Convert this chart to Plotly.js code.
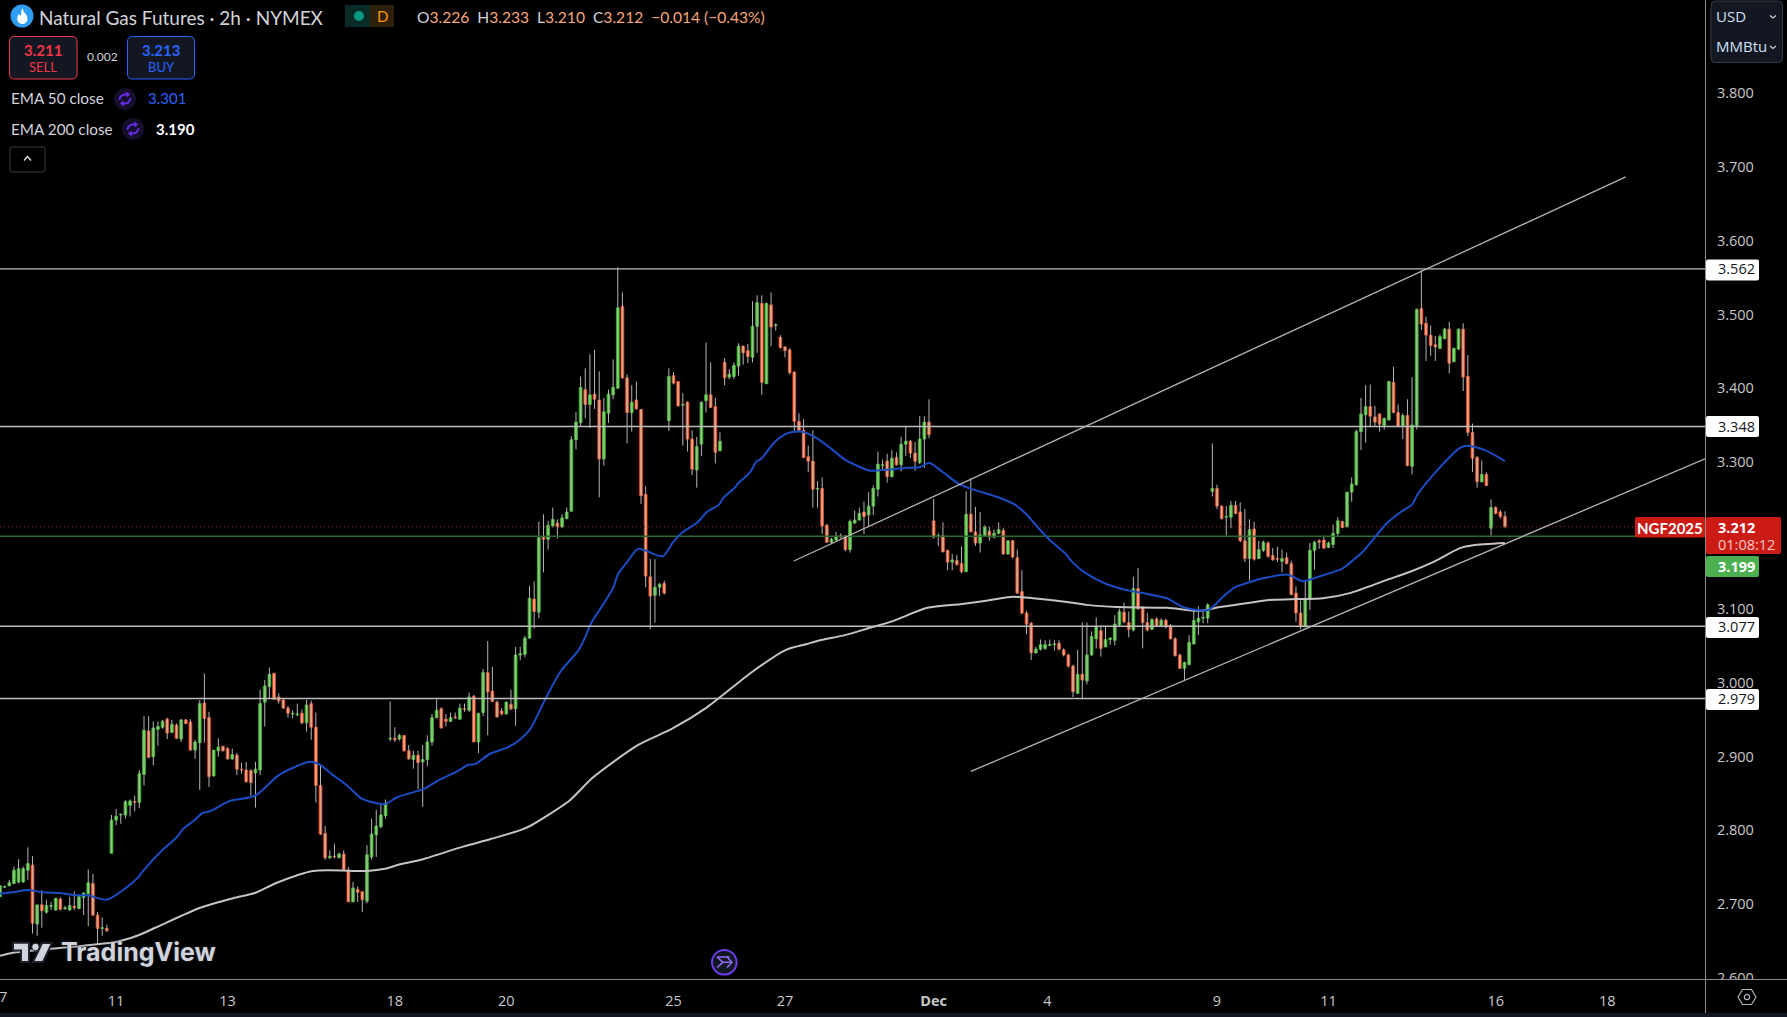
<!DOCTYPE html>
<html>
<head>
<meta charset="utf-8">
<script src="https://cdn.plot.ly/plotly-3.0.1.min.js"></script>
<style>html,body{margin:0;padding:0;background:#000;overflow:hidden}#chart{width:1787px;height:1017px}</style>
</head>
<body>
<div id="chart"></div>
<script>
const opens=[2.710,2.723,2.725,2.728,2.730,2.730,2.746,2.753,2.673,2.699,
2.689,2.697,2.692,2.707,2.694,2.692,2.697,2.694,2.709,2.714,
2.728,2.685,2.667,2.667,2.769,2.814,2.821,2.821,2.834,2.839,
2.838,2.876,2.935,2.900,2.937,2.940,2.951,2.933,2.943,2.924,
2.950,2.947,2.909,2.919,2.973,2.953,2.874,2.908,2.914,2.911,
2.897,2.902,2.883,2.882,2.881,2.878,2.882,2.974,2.995,3.013,
2.981,2.977,2.966,2.958,2.957,2.959,2.946,2.972,2.940,2.861,
2.796,2.763,2.765,2.763,2.768,2.746,2.703,2.720,2.717,2.704,
2.764,2.794,2.805,2.820,2.924,2.925,2.924,2.929,2.908,2.896,
2.902,2.893,2.896,2.920,2.953,2.965,2.951,2.948,2.954,2.951,
2.965,2.963,2.982,2.920,2.960,3.014,2.989,2.974,2.962,2.958,
2.971,2.965,3.038,3.039,3.061,3.114,3.096,3.198,3.195,3.213,
3.217,3.212,3.223,3.233,3.330,3.353,3.398,3.378,3.392,3.384,
3.304,3.366,3.391,3.400,3.511,3.414,3.367,3.384,3.371,3.256,
3.144,3.119,3.130,3.135,3.356,3.417,3.409,3.377,3.381,3.331,
3.289,3.324,3.383,3.391,3.375,3.315,3.435,3.415,3.416,3.430,
3.457,3.451,3.442,3.484,3.515,3.406,3.513,3.485,3.469,3.456,
3.452,3.422,3.355,3.343,3.307,3.301,3.263,3.264,3.214,3.191,
3.194,3.200,3.199,3.181,3.217,3.221,3.232,3.228,3.240,3.263,
3.295,3.301,3.280,3.306,3.296,3.324,3.328,3.312,3.299,3.331,
3.354,3.220,3.199,3.200,3.180,3.164,3.166,3.162,3.151,3.229,
3.205,3.190,3.200,3.206,3.198,3.203,3.207,3.175,3.193,3.170,
3.124,3.095,3.081,3.041,3.046,3.047,3.051,3.052,3.054,3.045,
3.038,3.023,2.986,3.012,3.003,3.038,3.060,3.071,3.049,3.059,
3.058,3.079,3.096,3.082,3.072,3.128,3.103,3.082,3.073,3.087,
3.078,3.085,3.078,3.060,3.038,3.020,3.025,3.053,3.083,3.088,
3.088,3.260,3.264,3.240,3.225,3.225,3.241,3.232,3.193,3.169,
3.209,3.169,3.180,3.190,3.173,3.169,3.165,3.170,3.162,3.122,
3.095,3.076,3.113,3.180,3.193,3.194,3.184,3.188,3.203,3.219,
3.212,3.259,3.269,3.341,3.364,3.375,3.361,3.365,3.349,3.357,
3.408,3.367,3.348,3.363,3.294,3.349,3.508,3.488,3.472,3.459,
3.454,3.467,3.480,3.436,3.453,3.480,3.416,3.340,3.306,3.273,
3.283,3.210,3.238,3.232,3.226];
const highs=[2.726,2.725,2.733,2.751,2.761,2.751,2.777,2.765,2.699,2.719,
2.706,2.703,2.708,2.709,2.698,2.710,2.717,2.712,2.716,2.747,
2.741,2.689,2.682,2.672,2.821,2.829,2.823,2.841,2.842,2.847,
2.882,2.955,2.955,2.948,2.948,2.950,2.953,2.950,2.945,2.951,
2.951,2.951,2.923,2.977,3.013,2.961,2.909,2.925,2.915,2.913,
2.911,2.905,2.892,2.893,2.883,2.893,2.991,3.004,3.021,3.014,
2.986,2.978,2.969,2.963,2.972,2.964,2.977,2.976,2.960,2.889,
2.806,2.773,2.782,2.770,2.773,2.750,2.730,2.724,2.717,2.780,
2.816,2.828,2.835,2.842,2.975,2.940,2.931,2.929,2.916,2.908,
2.908,2.916,2.929,2.958,2.978,2.967,2.958,2.960,2.960,2.972,
2.972,2.987,2.984,2.959,3.019,3.057,3.022,2.976,2.966,2.975,
2.991,3.049,3.049,3.064,3.132,3.138,3.219,3.229,3.220,3.238,
3.222,3.229,3.238,3.335,3.368,3.416,3.427,3.446,3.452,3.423,
3.387,3.398,3.439,3.564,3.530,3.419,3.404,3.409,3.372,3.267,
3.168,3.168,3.136,3.139,3.427,3.422,3.409,3.393,3.382,3.343,
3.334,3.382,3.462,3.435,3.387,3.340,3.441,3.426,3.435,3.461,
3.458,3.460,3.518,3.526,3.526,3.516,3.530,3.488,3.472,3.457,
3.454,3.423,3.366,3.358,3.322,3.343,3.274,3.279,3.216,3.197,
3.205,3.203,3.201,3.222,3.234,3.238,3.246,3.259,3.268,3.314,
3.303,3.311,3.316,3.313,3.334,3.348,3.330,3.327,3.362,3.362,
3.385,3.250,3.203,3.218,3.181,3.175,3.174,3.185,3.260,3.278,
3.239,3.232,3.214,3.212,3.208,3.218,3.210,3.194,3.194,3.181,
3.153,3.098,3.083,3.049,3.059,3.058,3.059,3.058,3.058,3.047,
3.040,3.025,3.045,3.082,3.082,3.070,3.089,3.078,3.076,3.062,
3.092,3.101,3.109,3.097,3.144,3.156,3.104,3.095,3.088,3.089,
3.088,3.087,3.080,3.062,3.040,3.029,3.065,3.098,3.104,3.099,
3.108,3.325,3.269,3.241,3.240,3.247,3.247,3.245,3.236,3.222,
3.219,3.193,3.193,3.192,3.183,3.185,3.181,3.177,3.166,3.131,
3.112,3.137,3.190,3.193,3.195,3.200,3.192,3.215,3.225,3.220,
3.259,3.279,3.344,3.387,3.404,3.405,3.376,3.366,3.360,3.410,
3.429,3.378,3.366,3.385,3.415,3.508,3.560,3.497,3.485,3.471,
3.473,3.482,3.490,3.455,3.481,3.488,3.445,3.352,3.308,3.302,
3.286,3.249,3.240,3.235,3.233];
const lows=[2.710,2.722,2.724,2.727,2.728,2.729,2.733,2.660,2.657,2.668,
2.687,2.692,2.691,2.692,2.692,2.691,2.692,2.693,2.685,2.670,
2.684,2.645,2.657,2.662,2.769,2.807,2.809,2.816,2.819,2.826,
2.830,2.861,2.898,2.888,2.915,2.938,2.924,2.932,2.924,2.920,
2.944,2.908,2.897,2.855,2.919,2.859,2.873,2.900,2.907,2.896,
2.896,2.875,2.877,2.865,2.847,2.831,2.875,2.941,2.978,2.977,
2.972,2.965,2.953,2.952,2.955,2.944,2.934,2.923,2.838,2.794,
2.760,2.761,2.762,2.762,2.746,2.703,2.703,2.703,2.689,2.701,
2.760,2.764,2.803,2.816,2.921,2.920,2.922,2.907,2.896,2.884,
2.856,2.832,2.887,2.915,2.952,2.938,2.941,2.947,2.951,2.950,
2.961,2.961,2.920,2.905,2.955,2.929,2.974,2.953,2.956,2.957,
2.963,2.942,3.031,3.035,3.060,3.074,3.088,3.150,3.181,3.211,
3.196,3.210,3.222,3.233,3.317,3.349,3.359,3.346,3.372,3.252,
3.295,3.353,3.385,3.399,3.413,3.325,3.341,3.371,3.243,3.130,
3.073,3.082,3.118,3.120,3.342,3.405,3.375,3.322,3.314,3.282,
3.265,3.308,3.367,3.373,3.298,3.315,3.404,3.412,3.412,3.417,
3.432,3.434,3.435,3.448,3.391,3.406,3.457,3.478,3.454,3.442,
3.419,3.342,3.341,3.305,3.286,3.238,3.238,3.202,3.190,3.189,
3.193,3.196,3.179,3.177,3.216,3.221,3.202,3.213,3.228,3.253,
3.289,3.272,3.279,3.295,3.287,3.308,3.305,3.288,3.297,3.292,
3.332,3.196,3.186,3.177,3.153,3.153,3.159,3.149,3.151,3.205,
3.186,3.177,3.199,3.193,3.196,3.202,3.174,3.174,3.169,3.121,
3.093,3.066,3.031,3.040,3.044,3.045,3.050,3.044,3.044,3.036,
3.021,2.981,2.985,2.978,2.998,3.037,3.047,3.036,3.049,3.052,
3.051,3.077,3.081,3.062,3.070,3.099,3.047,3.070,3.072,3.077,
3.078,3.074,3.059,3.036,3.019,3.004,3.024,3.052,3.065,3.081,
3.081,3.253,3.236,3.222,3.200,3.210,3.229,3.191,3.164,3.139,
3.166,3.168,3.178,3.170,3.166,3.164,3.150,3.161,3.119,3.083,
3.073,3.076,3.099,3.154,3.182,3.182,3.183,3.183,3.198,3.210,
3.211,3.246,3.268,3.316,3.326,3.347,3.348,3.341,3.344,3.356,
3.366,3.347,3.331,3.294,3.283,3.344,3.479,3.437,3.444,3.437,
3.453,3.467,3.420,3.435,3.452,3.396,3.335,3.286,3.265,3.272,
3.267,3.200,3.229,3.223,3.210];
const closes=[2.725,2.724,2.729,2.746,2.748,2.748,2.755,2.674,2.699,2.691,
2.698,2.698,2.708,2.693,2.695,2.698,2.695,2.710,2.715,2.729,
2.685,2.667,2.668,2.664,2.814,2.819,2.822,2.839,2.840,2.838,
2.877,2.936,2.899,2.939,2.941,2.948,2.932,2.944,2.925,2.950,
2.945,2.909,2.920,2.972,2.952,2.873,2.909,2.913,2.908,2.897,
2.903,2.883,2.882,2.866,2.865,2.883,2.972,2.996,3.012,2.978,
2.976,2.966,2.959,2.959,2.958,2.946,2.970,2.940,2.861,2.795,
2.763,2.765,2.764,2.768,2.747,2.703,2.722,2.716,2.706,2.767,
2.795,2.806,2.821,2.837,2.925,2.923,2.929,2.908,2.897,2.902,
2.892,2.896,2.920,2.953,2.963,2.939,2.948,2.953,2.953,2.966,
2.964,2.981,2.920,2.959,3.014,2.988,2.975,2.954,2.958,2.974,
2.965,3.038,3.040,3.061,3.115,3.097,3.197,3.195,3.214,3.222,
3.212,3.224,3.232,3.330,3.354,3.401,3.378,3.391,3.385,3.304,
3.368,3.392,3.401,3.509,3.414,3.367,3.381,3.372,3.254,3.145,
3.118,3.130,3.134,3.122,3.416,3.407,3.376,3.378,3.331,3.290,
3.321,3.381,3.391,3.374,3.313,3.328,3.414,3.419,3.431,3.457,
3.448,3.443,3.484,3.516,3.408,3.515,3.483,3.486,3.455,3.451,
3.421,3.355,3.343,3.306,3.301,3.263,3.264,3.213,3.191,3.195,
3.199,3.198,3.181,3.219,3.221,3.230,3.226,3.240,3.264,3.297,
3.296,3.280,3.305,3.296,3.324,3.328,3.312,3.301,3.331,3.354,
3.337,3.198,3.200,3.178,3.164,3.167,3.161,3.151,3.229,3.205,
3.190,3.201,3.212,3.198,3.203,3.208,3.175,3.193,3.171,3.122,
3.095,3.080,3.041,3.046,3.052,3.052,3.052,3.053,3.046,3.038,
3.023,2.988,3.012,3.004,3.038,3.063,3.076,3.047,3.059,3.061,
3.080,3.097,3.083,3.073,3.128,3.101,3.082,3.072,3.086,3.078,
3.085,3.076,3.060,3.037,3.020,3.028,3.055,3.085,3.088,3.089,
3.106,3.264,3.240,3.223,3.226,3.241,3.230,3.193,3.169,3.208,
3.168,3.181,3.191,3.172,3.167,3.168,3.169,3.162,3.120,3.095,
3.077,3.114,3.180,3.191,3.191,3.183,3.190,3.203,3.220,3.211,
3.259,3.270,3.341,3.365,3.375,3.362,3.354,3.351,3.359,3.409,
3.367,3.348,3.363,3.295,3.350,3.507,3.487,3.472,3.458,3.456,
3.470,3.480,3.434,3.454,3.480,3.415,3.340,3.305,3.273,3.283,
3.268,3.238,3.230,3.226,3.212];

const ema50Bars=[0,2.8,6,9.3,12.9,16.6,18.9,23,26.9,29.7,30.8,34.9,38.1,39.4,41.5,43.7,45.2,49.5,54.9,59.8,63.1,66.7,68.9,71.7,74.7,77.9,79.7,82.9,85.5,91.1,94.1,98.4,100.8,102.3,105.5,109.4,111.9,114.1,117.3,120.6,124.6,125.9,127.4,129.8,132,133,135,137.4,142.7,144.9,147,150,152.2,154.8,155.7,158.2,158.9,161.5,162.8,164,166.8,169.6,172.7,175.9,178.7,181.9,184.1,187.3,190.1,195.3,198.1,200,203,206.5,210.3,214.9,218.5,221.1,223.3,226,229.3,231,234,238.3,243.3,246.1,251.2,255.1,260.1,263.3,265.9,269.1,271.9,277.3,280.5,283.7,288.9,290.6,293.4,298.6,301.8,304,305.1,308.5,314.3,316,319.7,324];
const ema50=[2.714,2.716,2.719,2.716,2.715,2.712,2.712,2.706,2.721,2.736,2.745,2.773,2.791,2.802,2.812,2.824,2.826,2.840,2.847,2.874,2.885,2.893,2.889,2.875,2.861,2.843,2.839,2.836,2.845,2.856,2.867,2.880,2.889,2.890,2.904,2.913,2.923,2.937,2.977,3.015,3.045,3.061,3.083,3.106,3.129,3.147,3.164,3.182,3.172,3.191,3.205,3.217,3.232,3.242,3.251,3.265,3.271,3.286,3.300,3.305,3.327,3.339,3.341,3.332,3.319,3.303,3.296,3.288,3.289,3.292,3.293,3.299,3.286,3.270,3.261,3.252,3.242,3.228,3.212,3.194,3.176,3.163,3.148,3.134,3.125,3.122,3.115,3.102,3.099,3.117,3.130,3.137,3.142,3.147,3.138,3.144,3.155,3.163,3.178,3.217,3.233,3.242,3.255,3.282,3.319,3.322,3.316,3.301];
const ema200Bars=[0,2.8,12.3,25.2,29.5,33.8,43.1,50.2,54.9,59.6,67.4,79,82.9,86.1,91.1,99.7,105.5,111.9,114.1,117.8,122.7,127.7,137.4,144.7,152.2,161.9,169.2,173.7,176.5,181.9,187.3,192.2,199.6,206.7,211.6,218.1,222.4,229.7,234,240.5,251.2,258.3,262.6,269.1,274.1,279.2,284.8,290.6,298.6,303.6,308.5,314.3,317.1,324];
const ema200=[2.630,2.634,2.640,2.649,2.657,2.669,2.695,2.708,2.715,2.729,2.745,2.745,2.748,2.754,2.761,2.778,2.788,2.800,2.806,2.820,2.841,2.872,2.916,2.938,2.967,3.015,3.045,3.053,3.058,3.065,3.075,3.084,3.102,3.107,3.111,3.117,3.115,3.110,3.106,3.103,3.102,3.098,3.103,3.109,3.113,3.114,3.115,3.122,3.140,3.151,3.164,3.183,3.187,3.190];

const levels=[3.562,3.348,3.077,2.979];
const levelLabels=["3.562","3.348","3.077","2.979"];
const bidLevel=3.199;
const lastPrice=3.212;
const channelBars=[170.9,350];
const channelValues=[3.1655,3.6866];
const supportBars=[209,367.06];
const supportValues=[2.880,3.3043];
const priceTicks=[2.6,2.7,2.8,2.9,3.0,3.1,3.3,3.4,3.5,3.6,3.7,3.8];
const dateTickBars=[25,49,85,109,145,169,201,225.5,262,286,322,346];
const dateTickLabels=["11","13","18","20","25","27","<b>Dec</b>","4","9","11","16","18"];
const firstDateLabel="7";

const W=1705,H=979,BAR_RANGE=367.06;
const X=p=>p/W, Y=p=>1-p/H;
const UI='Lato, "Open Sans", sans-serif';
const NUM='"Open Sans", sans-serif';
const bars=opens.map((_,i)=>i);
const upIdx=bars.filter(i=>closes[i]>=opens[i]);
const dnIdx=bars.filter(i=>closes[i]<opens[i]);
const wickX=[],wickY=[];
bars.forEach(i=>{wickX.push(i,i,null);wickY.push(lows[i],highs[i],null);});
const line=(x,y,color,width,dash,smooth)=>({type:'scatter',mode:'lines',x,y,hoverinfo:'skip',showlegend:false,line:Object.assign({color,width,dash:dash||'solid',simplify:false},smooth?{shape:'spline',smoothing:0.7}:{})});
const body=(idx,fill,edge)=>({type:'bar',x:idx,base:idx.map(i=>Math.min(opens[i],closes[i])),y:idx.map(i=>Math.abs(closes[i]-opens[i])),width:0.6,hoverinfo:'skip',showlegend:false,marker:{color:fill,line:{color:edge,width:0.8}}});
const traces=[
  line(wickX,wickY,'#b4b4b4',1),
  body(upIdx,'#55d83c','#3fbc2c'),
  body(dnIdx,'#ff9a60','#f5401a'),
  line([0,BAR_RANGE],[bidLevel,bidLevel],'#2c6a2f',1.5),
  line([0,BAR_RANGE],[lastPrice,lastPrice],'#a31c1c',1.2,'1px,3px'),
  line(ema200Bars,ema200,'#c4c4c4',2,null,true),
  line(ema50Bars,ema50,'#1c4cc4',2,null,true)
];
levels.forEach(v=>traces.push(line([0,BAR_RANGE],[v,v],'#bdbdbd',1.3)));
traces.push(line(channelBars,channelValues,'#b4b4b4',1.3));
traces.push(line(supportBars,supportValues,'#b4b4b4',1.3));

function rr(x0,y0,x1,y1,r){
  const a=X(x0),b=X(x1),c=Y(y0),d=Y(y1),rx=r/W,ry=r/H;
  return `M${a+rx},${c} L${b-rx},${c} Q${b},${c} ${b},${c-ry} L${b},${d+ry} Q${b},${d} ${b-rx},${d} L${a+rx},${d} Q${a},${d} ${a},${d+ry} L${a},${c-ry} Q${a},${c} ${a+rx},${c} Z`;
}
function poly(pts,close){return pts.map((p,i)=>(i?'L':'M')+X(p[0])+','+Y(p[1])).join(' ')+(close?' Z':'');}
const pathShape=(path,fill,stroke,w)=>({type:'path',xref:'paper',yref:'paper',path,fillcolor:fill||'rgba(0,0,0,0)',line:{color:stroke||'rgba(0,0,0,0)',width:w||0},layer:'above'});
const circle=(cx,cy,r,fill,stroke,w)=>({type:'circle',xref:'paper',yref:'paper',x0:X(cx-r),x1:X(cx+r),y0:Y(cy+r),y1:Y(cy-r),fillcolor:fill||'rgba(0,0,0,0)',line:{color:stroke||'rgba(0,0,0,0)',width:w||0},layer:'above'});
const box=(x0,y0,x1,y1,r,fill,stroke,w)=>pathShape(rr(x0,y0,x1,y1,r),fill,stroke,w);
function sync(cx,cy){
  const q=(a,b,c)=>`M${X(a[0])},${Y(a[1])} Q${X(b[0])},${Y(b[1])} ${X(c[0])},${Y(c[1])}`;
  return [circle(cx,cy,11,'#160f2b'),
    pathShape(q([cx-5.5,cy+1],[cx-5,cy-5.5],[cx+3.5,cy-4.5]),null,'#6a2df0',1.8),
    pathShape(q([cx+5.5,cy-1],[cx+5,cy+5.5],[cx-3.5,cy+4.5]),null,'#6a2df0',1.8),
    pathShape(poly([[cx+1,cy-7.5],[cx+5,cy-4.5],[cx+1.5,cy-1.5]],true),'#6a2df0'),
    pathShape(poly([[cx-1,cy+7.5],[cx-5,cy+4.5],[cx-1.5,cy+1.5]],true),'#6a2df0')];
}
const shapes=[
  {type:'rect',xref:'paper',yref:'paper',x0:X(W+1),x1:X(1787),y0:Y(1013),y1:Y(980),fillcolor:'#000',line:{width:0},layer:'above'},
  pathShape(poly([[W+0.5,0],[W+0.5,1013]]),null,'#8c8c8c',1),
  pathShape(poly([[0,979.5],[1787,979.5]]),null,'#8c8c8c',1),
  {type:'rect',xref:'paper',yref:'paper',x0:0,x1:X(1787),y0:Y(1017),y1:Y(1013),fillcolor:'#131722',line:{width:0},layer:'above'},
  box(1711,1,1782.5,62.5,4,'#131722','#363a45',1),
  pathShape(poly([[1770,15.5],[1773,18],[1776,15.5]]),null,'#d1d4dc',1.2),
  pathShape(poly([[1770,46],[1773,48.5],[1776,46]]),null,'#d1d4dc',1.2),
  box(1706,259.5,1759,280.5,2,'#ffffff'),
  box(1706,416,1759,437,2,'#ffffff'),
  box(1706,617,1759,638,2,'#ffffff'),
  box(1706,689,1759,710,2,'#ffffff'),
  box(1635,517,1705,537.5,2,'#cc1a14'),
  box(1706,517,1781,554,2,'#cc1a14'),
  box(1706,556,1759,577,2,'#4caf50'),
  circle(22,16,11.5,'#2f9df2'),
  pathShape(`M${X(22.5)},${Y(8)} Q${X(23)},${Y(12)} ${X(26.5)},${Y(15)} Q${X(29)},${Y(20)} ${X(25)},${Y(23.5)} Q${X(22)},${Y(25)} ${X(18.5)},${Y(22.5)} Q${X(15.5)},${Y(18)} ${X(19)},${Y(14)} Q${X(20)},${Y(16)} ${X(21)},${Y(15.5)} Q${X(20.5)},${Y(11)} ${X(22.5)},${Y(8)} Z`,'#ffffff'),
  box(345,5,370,27,0,'#0b2b28'),
  box(370,5,394,27,0,'#2e1f08'),
  circle(359,16,5,'#089981'),
  box(9.5,36.5,77,79,5,'#131722','#f23645',1),
  box(127.5,36.5,194.5,79,5,'#131722','#2962ff',1),
  ...sync(125,99),
  ...sync(133,129),
  box(10,147,45,172,2,'#000000','#363a45',1),
  pathShape(poly([[24,160.5],[27.5,156.5],[31,160.5]]),null,'#e0e3eb',1.4),
  pathShape(poly([[13,942.7],[29,942.7],[29,962],[21,962],[21,950.5],[13,950.5]],true),'#d1d4dc','#1e222d',2),
  circle(35.5,947,3.8,'#d1d4dc','#1e222d',1),
  pathShape(poly([[42,943],[52,943],[43,962],[33,962]],true),'#d1d4dc','#1e222d',2),
  circle(724.3,962.3,12.3,'#131722','#6a3de8',2),
  pathShape(poly([[717,957],[729.5,957]]),null,'#8f6cf0',1.6),
  pathShape(poly([[717,967.5],[723,962.3],[732,962.3]]),null,'#8f6cf0',1.6),
  pathShape(poly([[717,957],[723,962.3]]),null,'#8f6cf0',1.6),
  pathShape(poly([[727,957],[732,962.3],[727,967.5]]),null,'#8f6cf0',1.6),
  pathShape(poly([[1738,997],[1742.5,989.5],[1751.5,989.5],[1756,997],[1751.5,1004.5],[1742.5,1004.5]],true),null,'#b2b5be',1.2),
  circle(1747,997,2.6,null,'#b2b5be',1.2)
];
const txt=(text,x,y,size,color,o)=>Object.assign({text,xref:'paper',yref:'paper',x:X(x),y:Y(y),xanchor:'left',yanchor:'middle',showarrow:false,align:'left',font:{family:UI,size,color},borderpad:0},o||{});
const ctr={xanchor:'center',align:'center'};
const orange='#f7a67a',gray='#d1d4dc';
const sp=t=>`<span style="color:${orange}">${t}</span>`;
const annotations=[
  txt('Natural Gas Futures · 2h · NYMEX',38,17,19,'#d1d4dc'),
  txt('D',382,16,15,'#ff9800',ctr),
  txt(`O${sp('3.226')}  H${sp('3.233')}  L${sp('3.210')}  C${sp('3.212')}  ${sp('−0.014 (−0.43%)')}`,416,17,15.6,gray),
  txt('<b>3.211</b>',43,49.5,15,'#f23645',ctr),
  txt('SELL',43,67,13,'#f23645',ctr),
  txt('0.002',102,57,12,gray,ctr),
  txt('<b>3.213</b>',161,49.5,15,'#2962ff',ctr),
  txt('BUY',161,67,13,'#2962ff',ctr),
  txt('EMA 50 close',9.5,98.5,15.3,gray),
  txt('3.301',147,98.5,15,'#2962ff'),
  txt('EMA 200 close',9.5,128.5,15.3,gray),
  txt('<b>3.190</b>',155,128.5,15,'#ffffff'),
  txt('USD',1715,15.5,15,'#d1e0f5',{font:{family:NUM,size:15,color:'#d1e0f5'}}),
  txt('MMBtu',1715,46,15,'#d1e0f5',{font:{family:NUM,size:15,color:'#d1e0f5'}}),
  txt('TradingView',60,952,25,'#d1d4dc',{font:{family:'Inter, Lato, sans-serif',size:25,color:'#d1d4dc',weight:700,shadow:'0 0 3px #2a2e39'}}),
  txt('<b>NGF2025</b>',1670,527.5,15,'#ffffff',ctr),
  txt('<b>3.212</b>',1717,527.5,14.5,'#ffffff',{font:{family:NUM,size:14.5,color:'#ffffff'}}),
  txt('01:08:12',1717,544,14.5,'#f6c9c6',{font:{family:NUM,size:14.5,color:'#f6c9c6'}}),
  txt('<b>3.199</b>',1717,566.5,14.5,'#ffffff',{font:{family:NUM,size:14.5,color:'#ffffff'}}),
  txt(firstDateLabel,3,997,14.5,'#c8c8c8',{xanchor:'center',font:{family:NUM,size:14.5,color:'#c8c8c8'}})
];
levels.forEach((v,i)=>annotations.push({text:levelLabels[i],xref:'paper',yref:'y',x:X(1717),y:v,xanchor:'left',yanchor:'middle',showarrow:false,borderpad:0,font:{family:NUM,size:14.5,color:'#131722'}}));

const layout={
  width:1787,height:1017,
  margin:{l:0,r:82,t:0,b:38,pad:0},
  paper_bgcolor:'#000000',plot_bgcolor:'#000000',
  barmode:'overlay',hovermode:false,showlegend:false,
  xaxis:{type:'linear',range:[0,BAR_RANGE],showgrid:false,zeroline:false,showline:false,tickmode:'array',tickvals:dateTickBars,ticktext:dateTickLabels,ticks:'outside',ticklen:9,tickcolor:'rgba(0,0,0,0)',tickfont:{family:NUM,size:14.5,color:'#c8c8c8'},fixedrange:true},
  yaxis:{type:'linear',side:'right',range:[2.5984,3.9267],showgrid:false,zeroline:false,showline:false,tickmode:'array',tickvals:priceTicks,ticktext:priceTicks.map(v=>v.toFixed(3)),ticks:'outside',ticklen:8,tickcolor:'rgba(0,0,0,0)',tickfont:{family:NUM,size:14.5,color:'#c8c8c8'},fixedrange:true},
  shapes,annotations
};
Plotly.newPlot('chart',traces,layout,{displayModeBar:false,staticPlot:true,responsive:false});
</script>
</body>
</html>
